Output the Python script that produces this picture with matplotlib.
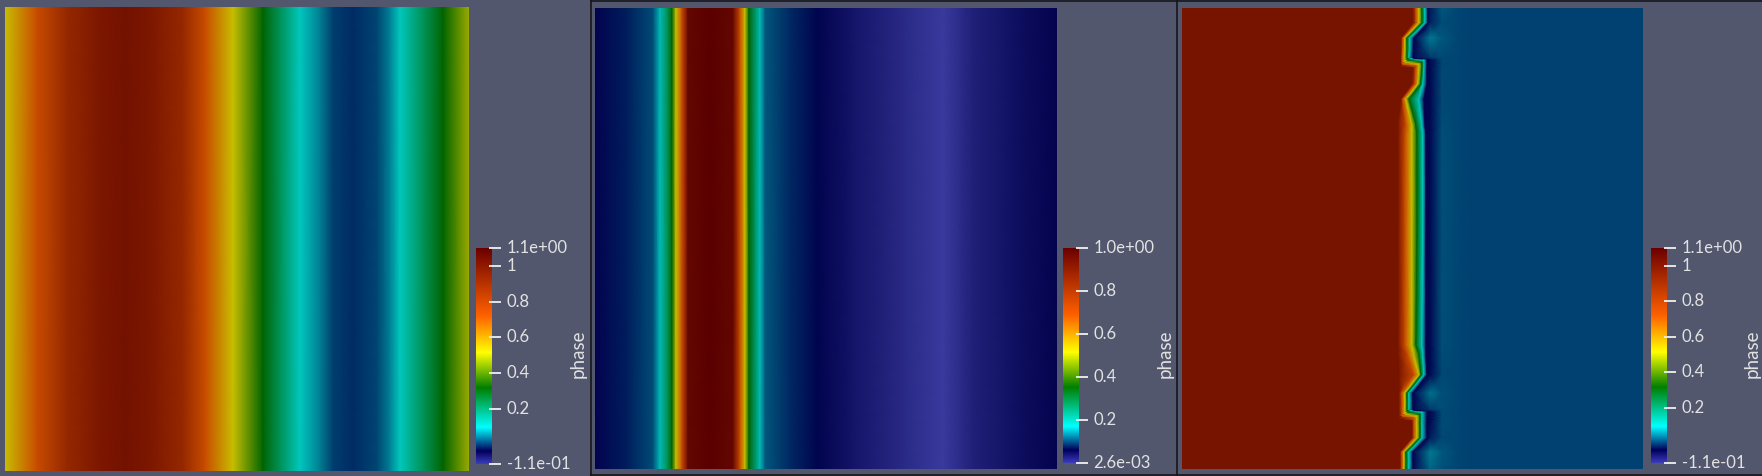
import numpy as np
import matplotlib
matplotlib.use("Agg")
import matplotlib.pyplot as plt
from matplotlib.colors import LinearSegmentedColormap
from matplotlib.lines import Line2D

W, H = 1762, 476
BG = "#52576E"

# colour map stops (bar colours and the dimmer lit colours of the surfaces)
stops = [0.0, 0.06, 0.17, 0.353, 0.516, 0.687, 1.0]
bar_colors = ["#3C3CBE", "#00005A", "#00FFFF", "#007F00", "#FFFF00", "#FF6100", "#6B0000"]
surf_colors = ["#3A3A9E", "#00004B", "#00C8BE", "#006400", "#C8BE00", "#C84B00", "#5A0000"]

# panel 1: phase across x
p1_x = [5, 37, 67, 100, 125, 150, 183, 205, 233, 263, 300, 320, 333, 353, 377, 390, 400, 443, 469]
p1_phase = [0.514, 0.72, 0.895, 0.98, 1.01, 0.98, 0.895, 0.72, 0.514, 0.317, 0.096, 0.047, 0.005,
            -0.007, 0.01, 0.05, 0.096, 0.317, 0.47]
p1_range = (-0.11, 1.1)
p1_ticks = [1.1, 1.0, 0.8, 0.6, 0.4, 0.2, -0.11]
p1_labels = ["1.1e+00", "1", "0.8", "0.6", "0.4", "0.2", "-1.1e-01"]

# panel 2: phase across x
p2_x = [595, 627, 653, 660, 668, 672, 676, 682, 688, 710, 733, 740, 745, 749, 760, 765,
        765.5, 790, 817, 830, 857, 907, 943, 973, 1023, 1057]
p2_phase = [0.06, 0.08, 0.105, 0.166, 0.28, 0.353, 0.516, 0.687, 0.97, 1.0, 0.97, 0.687, 0.516,
            0.353, 0.166, 0.115, 0.11, 0.085, 0.065, 0.055, 0.04, 0.02, 0.003, 0.03, 0.05, 0.06]
p2_range = (0.0026, 1.0)
p2_ticks = [1.0, 0.8, 0.6, 0.4, 0.2, 0.0026]
p2_labels = ["1.0e+00", "0.8", "0.6", "0.4", "0.2", "2.6e-03"]

# panel 3: the x of each phase contour on each row, read as pixels right of x=1370
p3_y = [8, 23, 38, 58, 60, 62, 64, 66, 68, 84, 99, 125, 135, 240, 345, 355, 375, 393,
        410, 412, 414, 416, 418, 421, 438, 452, 469]
p3_red = [43, 43, 31, 31, 31, 31, 31, 31, 43, 42, 31, 28, 28, 28, 28, 28, 29, 29,
          29, 29, 29, 29, 29, 42, 42, 30, 30]
p3_orange = [46, 46, 33, 32, 32, 32, 32, 46, 46, 45, 33, 36, 35, 35, 35, 38, 44, 32,
             32, 32, 32, 32, 44, 44, 44, 32, 32]
p3_yellow = [49, 49, 35, 34.5, 34.5, 34.5, 49, 49, 49, 48, 36, 42, 42, 42, 42, 44, 49, 35,
             35, 35, 35, 47, 47, 47, 47, 34, 34]
p3_green = [52, 52, 37, 37, 37, 52, 52, 52, 52, 50.5, 39, 46, 47, 47, 46, 49, 51, 37,
            37, 37, 50, 50, 50, 50, 50, 36, 36]
p3_cyan = [55, 55, 40, 39, 54, 54, 54, 54, 54, 53, 49, 52, 53, 53, 52, 53, 54, 39,
           39, 52, 52, 52, 52, 52, 52, 39, 39]
p3_navy = [58, 58, 44, 43, 57, 57, 57, 57, 57, 57, 54, 55, 56, 56, 56, 56, 57, 43,
           43, 57, 57, 57, 57, 57, 57, 43, 43]
p3_wake_near = [-0.02, -0.015, 0.045, 0.0, -0.03, -0.03, -0.03, -0.03, -0.03, -0.03, -0.03, -0.03, -0.03, -0.03,
                -0.03, -0.03, -0.03, 0.04, 0.0, -0.03, -0.03, -0.03, -0.03, -0.03, -0.02, 0.045, 0.03]
p3_wake_mid = [0.02, 0.015, 0.02, 0.012, 0.012, 0.012, 0.012, 0.012, 0.012, 0.012, 0.012, 0.014, 0.016, 0.016,
               0.016, 0.014, 0.012, 0.016, 0.014, 0.014, 0.014, 0.014, 0.014, 0.014, 0.012, 0.022, 0.016]
p3_contour_phase = [1.0, 0.72, 0.514, 0.317, 0.096, -0.04]
p3_far_x = [88, 100, 273]
p3_far_phase = [0.01, 0.006, 0.006]
p3_range = (-0.11, 1.1)
p3_ticks = p1_ticks
p3_labels = p1_labels


def px_axes(fig, x0, y0, x1, y1):
    ax = fig.add_axes([x0 / W, 1 - y1 / H, (x1 - x0) / W, (y1 - y0) / H])
    ax.set_axis_off()
    return ax


def make_cmap(colors):
    return LinearSegmentedColormap.from_list("phase", list(zip(stops, colors)), N=512)


def flat_panel(fig, rect, xs, phase, vrange, cmap):
    ax = px_axes(fig, *rect)
    X, Y = np.meshgrid(xs, [rect[1], rect[3]])
    C = np.vstack([phase, phase])
    ax.pcolormesh(X, Y, C, shading="gouraud", cmap=cmap, vmin=vrange[0], vmax=vrange[1])
    ax.set_xlim(rect[0], rect[2])
    ax.set_ylim(rect[3], rect[1])


def colorbar(fig, rect, vrange, ticks, labels, label_x, cmap):
    ax = fig.add_axes([rect[0] / W, 1 - rect[3] / H, (rect[2] - rect[0]) / W, (rect[3] - rect[1]) / H])
    grad = np.linspace(vrange[0], vrange[1], 512).reshape(-1, 1)
    ax.imshow(grad, origin="lower", aspect="auto", cmap=cmap, vmin=vrange[0], vmax=vrange[1],
              extent=[0, 1, vrange[0], vrange[1]])
    ax.hlines(ticks, 0.8, 1.55, transform=ax.get_yaxis_transform(), colors="#F0F0F0", lw=1.3, clip_on=False)
    ax.set_xticks([])
    ax.yaxis.tick_right()
    ax.set_yticks(ticks, labels)
    ax.tick_params(axis="y", length=0, pad=10.5, labelsize=12, labelcolor="#E2E2E2")
    for lab in ax.get_yticklabels():
        lab.set_fontfamily("Lato")
        lab.set_va("center")
    for s in ax.spines.values():
        s.set_visible(False)
    fig.text(label_x / W, 1 - 354 / H, "phase", rotation=90, ha="center", va="center",
             color="#E2E2E2", fontsize=13.5, family="Lato")


fig = plt.figure(figsize=(W / 100, H / 100), dpi=100, facecolor=BG)
surf = make_cmap(surf_colors)
bar = make_cmap(bar_colors)

flat_panel(fig, (5, 7, 469, 471), p1_x, p1_phase, p1_range, surf)
flat_panel(fig, (595, 8, 1057, 469), p2_x, p2_phase, p2_range, surf)

# panel 3 is a mesh that follows the contours
ax3 = px_axes(fig, 1182, 8, 1643, 469)
n = len(p3_y)
cols = [p3_red, p3_orange, p3_yellow, p3_green, p3_cyan, p3_navy]
left = np.full(n, 1182 - 1370.0)
near = np.full(n, 60.0)
mid = np.full(n, 72.0)
X = [left] + [np.array(c, float) for c in cols] + [near, mid] + [np.full(n, float(v)) for v in p3_far_x]
X = np.column_stack(X) + 1370
Y = np.tile(np.array(p3_y, float).reshape(-1, 1), (1, X.shape[1]))
C = [np.full(n, 1.0)] + [np.full(n, v) for v in p3_contour_phase] + [np.array(p3_wake_near), np.array(p3_wake_mid)]
C += [np.full(n, v) for v in p3_far_phase]
C = np.column_stack(C)
ax3.pcolormesh(X, Y, C, shading="gouraud", cmap=surf, vmin=p3_range[0], vmax=p3_range[1])
ax3.set_xlim(1182, 1643)
ax3.set_ylim(469, 8)

colorbar(fig, (476, 248, 492, 464), p1_range, p1_ticks, p1_labels, 578, bar)
colorbar(fig, (1063, 248, 1079, 463), p2_range, p2_ticks, p2_labels, 1165, bar)
colorbar(fig, (1651, 248, 1667, 463), p3_range, p3_ticks, p3_labels, 1752, bar)

# frame lines between the views
line_color = "#15151A"
for x in [590.5, 1176.5]:
    fig.add_artist(Line2D([x / W, x / W], [0, 1], color=line_color, lw=1.2))
for y in [0.5, 475]:
    fig.add_artist(Line2D([590.5 / W, 1], [1 - y / H, 1 - y / H], color=line_color, lw=1.2))

fig.savefig("out.png", dpi=100, facecolor=BG)
